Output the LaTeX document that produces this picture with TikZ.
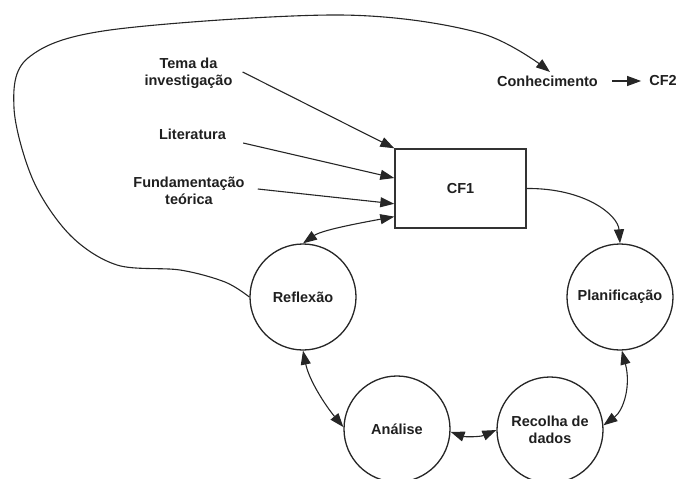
\documentclass[tikz,border=0pt]{standalone}
\usepackage{fontspec}
\setmainfont{Liberation Sans}
\usetikzlibrary{arrows.meta}
\begin{document}
\begin{tikzpicture}[x=1pt,y=-1pt,
  every node/.style={font=\bfseries\fontsize{14.5}{17}\selectfont, text=black!88},
  conn/.style={line width=1.1pt, draw=black!85, -{Triangle[length=14pt,width=10pt]}},
  bidir/.style={line width=1.1pt, draw=black!85, {Triangle[length=14pt,width=10pt]}-{Triangle[length=14pt,width=10pt]}},
  stagecirc/.style={circle, draw=black!85, line width=1.3pt, minimum size=106pt, inner sep=0pt, align=center},
  txt/.style={align=center, inner sep=3pt}]
\useasboundingbox (0,0) rectangle (678,479);

% text nodes
\node[txt] (tema) at (188.5,73) {Tema da\\investigação};
\node[txt] (lit) at (192.5,134) {Literatura};
\node[txt] (fund) at (189,190.5) {Fundamentação\\teórica};
\node[txt] (conh) at (547.5,81) {Conhecimento};
\node[txt] (cf2) at (663,81) {CF2};

% CF1 box
\node[draw=black!80, line width=1.4pt, minimum width=131pt, minimum height=79pt, inner sep=0pt] (cf1) at (460.5,188.5) {CF1};

% stages
\node[stagecirc] (refl) at (303,297) {Reflexão};
\node[stagecirc] (plan) at (620,297) {Planificação};
\node[stagecirc] (anal) at (397,429) {Análise};
\node[stagecirc] (rec) at (550,430) {Recolha de\\dados};

% inputs into CF1
\draw[conn] ([xshift=7pt,yshift=1pt]tema.east) -- (cf1.north west);
\draw[conn] ([xshift=14pt,yshift=-9pt]lit.east) -- (cf1.171);
\draw[conn] ([xshift=10pt,yshift=1.5pt]fund.east) -- (cf1.193.3);
\draw[bidir] (cf1.203) .. controls (360,223) and (322,230) .. (refl.90);

% cycle
\draw[conn] (cf1.east) .. controls (585,188) and (618,215) .. (plan.90);
\draw[bidir] (plan.272) .. controls (631,385) and (624,410) .. (rec.5);
\draw[bidir] (rec.180) .. controls (480,437) and (465,437) .. (anal.-3);
\draw[bidir] (anal.178) .. controls (325,405) and (309,380) .. (refl.270);

% big loop
\coordinate (ck) at (550,72);
\draw[conn] plot[smooth, tension=0.55] coordinates {(refl.west) (225,282) (180,270) (117,265) (70,235) (33,180) (14,108) (28,58) (110,30) (340,15) (480,33) (ck)};

% Conhecimento -> CF2
\draw[conn] ([xshift=11pt]conh.east) -- ([xshift=-5pt]cf2.west);
\end{tikzpicture}
\end{document}
